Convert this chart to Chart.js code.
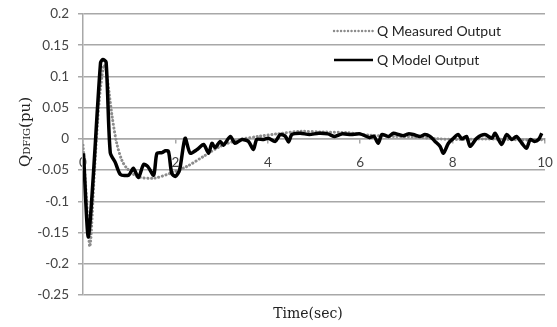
<!DOCTYPE html>
<html>
<head>
<meta charset="utf-8">
<script src="https://cdn.jsdelivr.net/npm/chart.js@4"></script>
<style>
  html, body { margin: 0; padding: 0; background: #fff; }
  #wrap { width: 557px; height: 327px; }
</style>
</head>
<body>
<div id="wrap"><canvas id="qChart" width="557" height="327"></canvas></div>
<script>
// Reactive power response, time in seconds, Q in pu
const timeMeasured = [0, 0.08, 0.15, 0.25, 0.35, 0.45, 0.5, 0.63, 0.73, 0.84, 0.95, 1.17, 1.53, 1.89, 2.25, 2.61, 2.97, 3.4, 3.8, 4.2, 4.7, 5.2, 5.7, 6.2, 6.7, 7.2, 7.7, 8.2, 8.7, 9.2, 9.7, 10];
const qMeasured = [-0.01, -0.1, -0.172, -0.05, 0.06, 0.118, 0.11, 0.036, -0.007, -0.034, -0.047, -0.06, -0.063, -0.055, -0.044, -0.028, -0.012, -0.001, 0.004, 0.008, 0.012, 0.011, 0.01, 0.006, 0.004, 0.003, 0.0, -0.001, 0.0, -0.001, -0.002, -0.001];

const timeModel = [0.01, 0.12, 0.38, 0.43, 0.5, 0.59, 0.7, 0.81, 0.99, 1.09, 1.2, 1.31, 1.4, 1.53, 1.6, 1.71, 1.78, 1.85, 1.92, 2.0, 2.09, 2.21, 2.32, 2.47, 2.61, 2.72, 2.79, 2.86, 2.97, 3.04, 3.19, 3.29, 3.44, 3.58, 3.69, 3.76, 3.91, 4.01, 4.16, 4.27, 4.38, 4.45, 4.52, 4.7, 4.9, 5.1, 5.3, 5.45, 5.6, 5.8, 6.0, 6.2, 6.3, 6.39, 6.47, 6.61, 6.72, 6.83, 6.93, 7.04, 7.15, 7.3, 7.4, 7.51, 7.62, 7.73, 7.8, 7.91, 8.02, 8.12, 8.2, 8.3, 8.38, 8.52, 8.7, 8.85, 8.92, 9.06, 9.17, 9.28, 9.38, 9.5, 9.6, 9.68, 9.77, 9.86, 9.93];
const qModel = [-0.023, -0.156, 0.122, 0.127, 0.123, -0.022, -0.038, -0.057, -0.058, -0.047, -0.062, -0.041, -0.044, -0.058, -0.023, -0.022, -0.019, -0.02, -0.055, -0.06, -0.05, 0.001, -0.023, -0.017, -0.009, -0.023, -0.007, -0.014, -0.004, -0.01, 0.004, -0.007, -0.001, -0.004, -0.017, -0.001, -0.001, 0.001, -0.004, 0.007, 0.004, -0.005, 0.007, 0.009, 0.007, 0.009, 0.008, 0.004, 0.008, 0.007, 0.008, 0.002, 0.004, -0.007, 0.007, 0.004, 0.009, 0.007, 0.005, 0.008, 0.007, 0.004, 0.007, 0.004, -0.004, -0.012, -0.023, -0.007, 0.001, 0.007, 0.0, 0.004, -0.012, 0.001, 0.007, 0.001, 0.009, -0.009, 0.007, -0.001, 0.004, -0.007, -0.015, -0.001, -0.004, -0.001, 0.009];

const seriesNames = ['Q Measured Output', 'Q Model Output'];
const xTicks = [0, 2, 4, 6, 8, 10];

function toPoints(xs, ys) {
  return xs.map((x, i) => ({ x: x, y: ys[i] }));
}

const gridGray = '#a8a8a8';
const labelFont = { family: 'Lato', size: 13.5 };

// axis titles and legend drawn by hand so they sit where Excel puts them
const decorations = {
  id: 'decorations',
  afterDraw(chart) {
    const ctx = chart.ctx;
    ctx.save();

    // x title
    ctx.fillStyle = '#222';
    ctx.font = '14px "DejaVu Serif"';
    ctx.textAlign = 'center';
    ctx.textBaseline = 'middle';
    ctx.fillText('Time(sec)', 308, 314);

    // y title with small-caps subscript
    ctx.translate(25, 132);
    ctx.rotate(-Math.PI / 2);
    const parts = [['Q', '15px "DejaVu Serif"'], ['DFIG', '10px "DejaVu Serif"'], ['(pu)', '15px "DejaVu Serif"']];
    let total = 0;
    parts.forEach(p => { ctx.font = p[1]; total += ctx.measureText(p[0]).width; });
    let px = -total / 2;
    ctx.textAlign = 'left';
    ctx.textBaseline = 'alphabetic';
    parts.forEach(p => {
      ctx.font = p[1];
      ctx.fillText(p[0], px, 5);
      px += ctx.measureText(p[0]).width;
    });
    ctx.restore();

    // legend
    ctx.save();
    const rows = [31, 60];
    chart.data.datasets.forEach((ds, i) => {
      const y = rows[i];
      ctx.beginPath();
      ctx.strokeStyle = ds.borderColor;
      ctx.lineWidth = i === 0 ? 2.4 : 2.6;
      ctx.lineCap = i === 0 ? 'round' : 'butt';
      ctx.setLineDash(i === 0 ? [0.1, 3.4] : []);
      ctx.moveTo(334, y);
      ctx.lineTo(373, y);
      ctx.stroke();
      ctx.setLineDash([]);
      ctx.fillStyle = '#222';
      ctx.font = '14px Lato';
      ctx.textAlign = 'left';
      ctx.textBaseline = 'middle';
      ctx.fillText(ds.label, 377, y);
    });
    ctx.restore();
  }
};

new Chart(document.getElementById('qChart'), {
  type: 'line',
  data: {
    datasets: [
      {
        label: seriesNames[0],
        data: toPoints(timeMeasured, qMeasured),
        borderColor: '#8c8c8c',
        borderWidth: 3,
        borderDash: [0.1, 3.6],
        borderCapStyle: 'round',
        pointRadius: 0,
        tension: 0.3,
        order: 1
      },
      {
        label: seriesNames[1],
        data: toPoints(timeModel, qModel),
        borderColor: '#000',
        borderWidth: 3.5,
        pointRadius: 0,
        tension: 0.25,
        order: 0
      }
    ]
  },
  options: {
    responsive: false,
    animation: false,
    layout: { padding: { left: 0, right: 12, top: 14, bottom: 32 } },
    plugins: {
      legend: { display: false },
      tooltip: { enabled: false }
    },
    scales: {
      x: {
        type: 'linear',
        position: { y: 0 },
        min: 0,
        max: 10,
        afterBuildTicks: scale => { scale.ticks = xTicks.map(v => ({ value: v })); },
        // labels may overhang the plot edge, keep the plot width fixed
        afterFit: scale => { scale.paddingLeft = 0; scale.paddingRight = 0; },
        ticks: { font: labelFont, color: '#444', padding: 12, maxRotation: 0 },
        grid: { drawOnChartArea: false, drawTicks: true, tickLength: 4, color: gridGray, lineWidth: 1.5 },
        border: { color: gridGray, width: 1.5 }
      },
      y: {
        min: -0.25,
        max: 0.2,
        afterFit: scale => {
          scale.width = 83;
          scale.paddingTop = 0;
          scale.paddingBottom = 0;
        },
        ticks: {
          stepSize: 0.05,
          font: labelFont,
          color: '#444',
          padding: 9,
          callback: v => String(Math.round(v * 100) / 100)
        },
        grid: { color: gridGray, lineWidth: 1.5, tickLength: 5 },
        border: { color: gridGray, width: 1.5 }
      }
    }
  },
  plugins: [decorations]
});
</script>
</body>
</html>
